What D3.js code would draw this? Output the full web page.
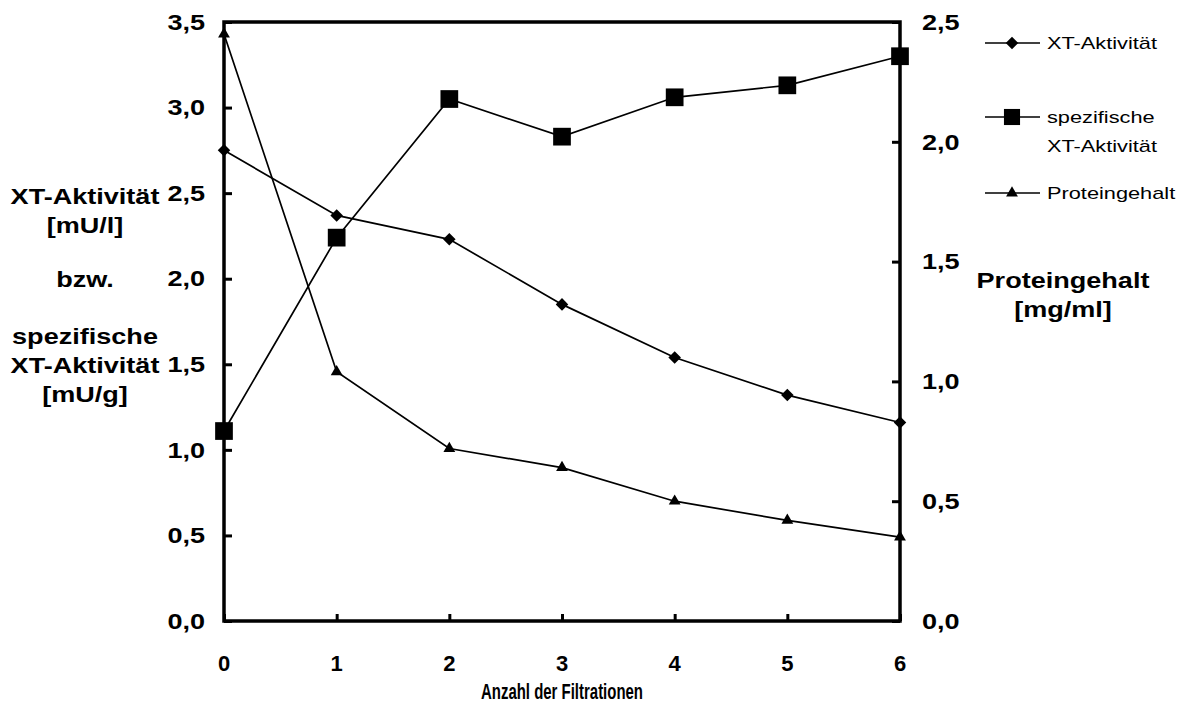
<!DOCTYPE html>
<html>
<head>
<meta charset="utf-8">
<script src="https://cdn.jsdelivr.net/npm/d3@7"></script>
<style>
  html, body { margin: 0; padding: 0; background: #fff; }
  svg { display: block; font-family: Arial, "Liberation Sans", sans-serif; }
</style>
</head>
<body>
<svg id="chart" width="1177" height="709"></svg>
<script>
// Number of filtrations (x axis)
const filtrations = [0, 1, 2, 3, 4, 5, 6];
// XT activity [mU/l] (left axis, diamonds)
const xtActivity = [2.75, 2.37, 2.23, 1.85, 1.54, 1.32, 1.16];
// specific XT activity [mU/g] (left axis, squares)
const specificActivity = [1.11, 2.24, 3.05, 2.83, 3.06, 3.13, 3.30];
// protein content [mg/ml] (right axis, triangles)
const proteinContent = [2.45, 1.04, 0.72, 0.64, 0.50, 0.42, 0.35];

const leftTicks = [0, 0.5, 1, 1.5, 2, 2.5, 3, 3.5];
const rightTicks = [0, 0.5, 1, 1.5, 2, 2.5];

const fmt = v => d3.format(".1f")(v).replace(".", ",");

// side texts use a wide type face, the x-axis title a narrower one
const WIDE = 1.23;

const svg = d3.select("#chart");
const plot = { left: 224, right: 900, top: 22, bottom: 621 };

const x = d3.scaleLinear().domain([0, 6]).range([plot.left, plot.right]);
const yL = d3.scaleLinear().domain([0, 3.5]).range([plot.bottom, plot.top]);
const yR = d3.scaleLinear().domain([0, 2.5]).range([plot.bottom, plot.top]);

// place a text at (px, py), scaled horizontally around its anchor
function label(parent, px, py, str, opts) {
  const sx = opts.sx == null ? WIDE : opts.sx;
  return parent.append("text")
    .attr("transform", `translate(${px},${py}) scale(${sx},1)`)
    .attr("dy", "0.35em")
    .attr("text-anchor", opts.anchor || "start")
    .attr("font-size", opts.size)
    .attr("font-weight", opts.weight || "normal")
    .text(str);
}

// frame
svg.append("rect")
  .attr("x", plot.left).attr("y", plot.top)
  .attr("width", plot.right - plot.left).attr("height", plot.bottom - plot.top)
  .attr("fill", "none").attr("stroke", "#000").attr("stroke-width", 3.5);

// axes (ticks point into the plot)
const axisL = svg.append("g").attr("transform", `translate(${plot.left},0)`)
  .call(d3.axisRight(yL).tickValues(leftTicks).tickSize(8).tickFormat(""));
const axisR = svg.append("g").attr("transform", `translate(${plot.right},0)`)
  .call(d3.axisLeft(yR).tickValues(rightTicks).tickSize(8).tickFormat(""));
const axisB = svg.append("g").attr("transform", `translate(0,${plot.bottom})`)
  .call(d3.axisTop(x).tickValues(filtrations).tickSize(7).tickFormat(""));
[axisL, axisR, axisB].forEach(g => {
  g.select(".domain").remove();
  g.selectAll(".tick line").attr("stroke", "#000").attr("stroke-width", 3);
});

// tick labels
const tickOpts = { size: 22, weight: "bold" };
const gTicks = svg.append("g");
leftTicks.forEach(v => label(gTicks, plot.left - 19, yL(v), fmt(v), { ...tickOpts, anchor: "end" }));
rightTicks.forEach(v => label(gTicks, plot.right + 22, yR(v), fmt(v), { ...tickOpts, anchor: "start" }));
filtrations.forEach(v => label(gTicks, x(v), 663, v, { ...tickOpts, anchor: "middle", sx: 1 }));

// axis titles
const titleOpts = { size: 22, weight: "bold", anchor: "middle" };
label(svg, 562, 691, "Anzahl der Filtrationen", { ...titleOpts, sx: 0.68 });

const leftTitle = [["XT-Aktivität", 196], ["[mU/l]", 225], ["bzw.", 279],
                   ["spezifische", 336], ["XT-Aktivität", 365], ["[mU/g]", 394]];
leftTitle.forEach(d => label(svg, 85, d[1], d[0], titleOpts));

const rightTitle = [["Proteingehalt", 280], ["[mg/ml]", 309]];
rightTitle.forEach(d => label(svg, 1063, d[1], d[0], titleOpts));

// series
const series = [
  { name: ["XT-Aktivität"], values: xtActivity, y: yL, symbol: d3.symbolDiamond2, size: 100, legendY: 43 },
  { name: ["spezifische", "XT-Aktivität"], values: specificActivity, y: yL, symbol: d3.symbolSquare2, size: 400, legendY: 117 },
  { name: ["Proteingehalt"], values: proteinContent, y: yR, symbol: d3.symbolTriangle2, size: 100, legendY: 193 }
];

series.forEach(s => {
  const pts = filtrations.map((f, i) => [x(f), s.y(s.values[i])]);
  svg.append("path")
    .attr("d", d3.line()(pts))
    .attr("fill", "none").attr("stroke", "#000").attr("stroke-width", 1.7);
  svg.append("g").selectAll("path").data(pts).join("path")
    .attr("transform", d => `translate(${d[0]},${d[1]})`)
    .attr("d", d3.symbol().type(s.symbol).size(s.size)())
    .attr("fill", "#000");
});

// legend
const legend = svg.append("g");
series.forEach(s => {
  legend.append("line")
    .attr("x1", 985).attr("x2", 1040).attr("y1", s.legendY).attr("y2", s.legendY)
    .attr("stroke", "#000").attr("stroke-width", 1.7);
  legend.append("path")
    .attr("transform", `translate(1012,${s.legendY})`)
    .attr("d", d3.symbol().type(s.symbol).size(s.symbol === d3.symbolSquare2 ? 330 : s.size)())
    .attr("fill", "#000");
  s.name.forEach((t, j) => label(legend, 1047, s.legendY + j * 29, t, { size: 17, sx: 1.28 }));
});
</script>
</body>
</html>
